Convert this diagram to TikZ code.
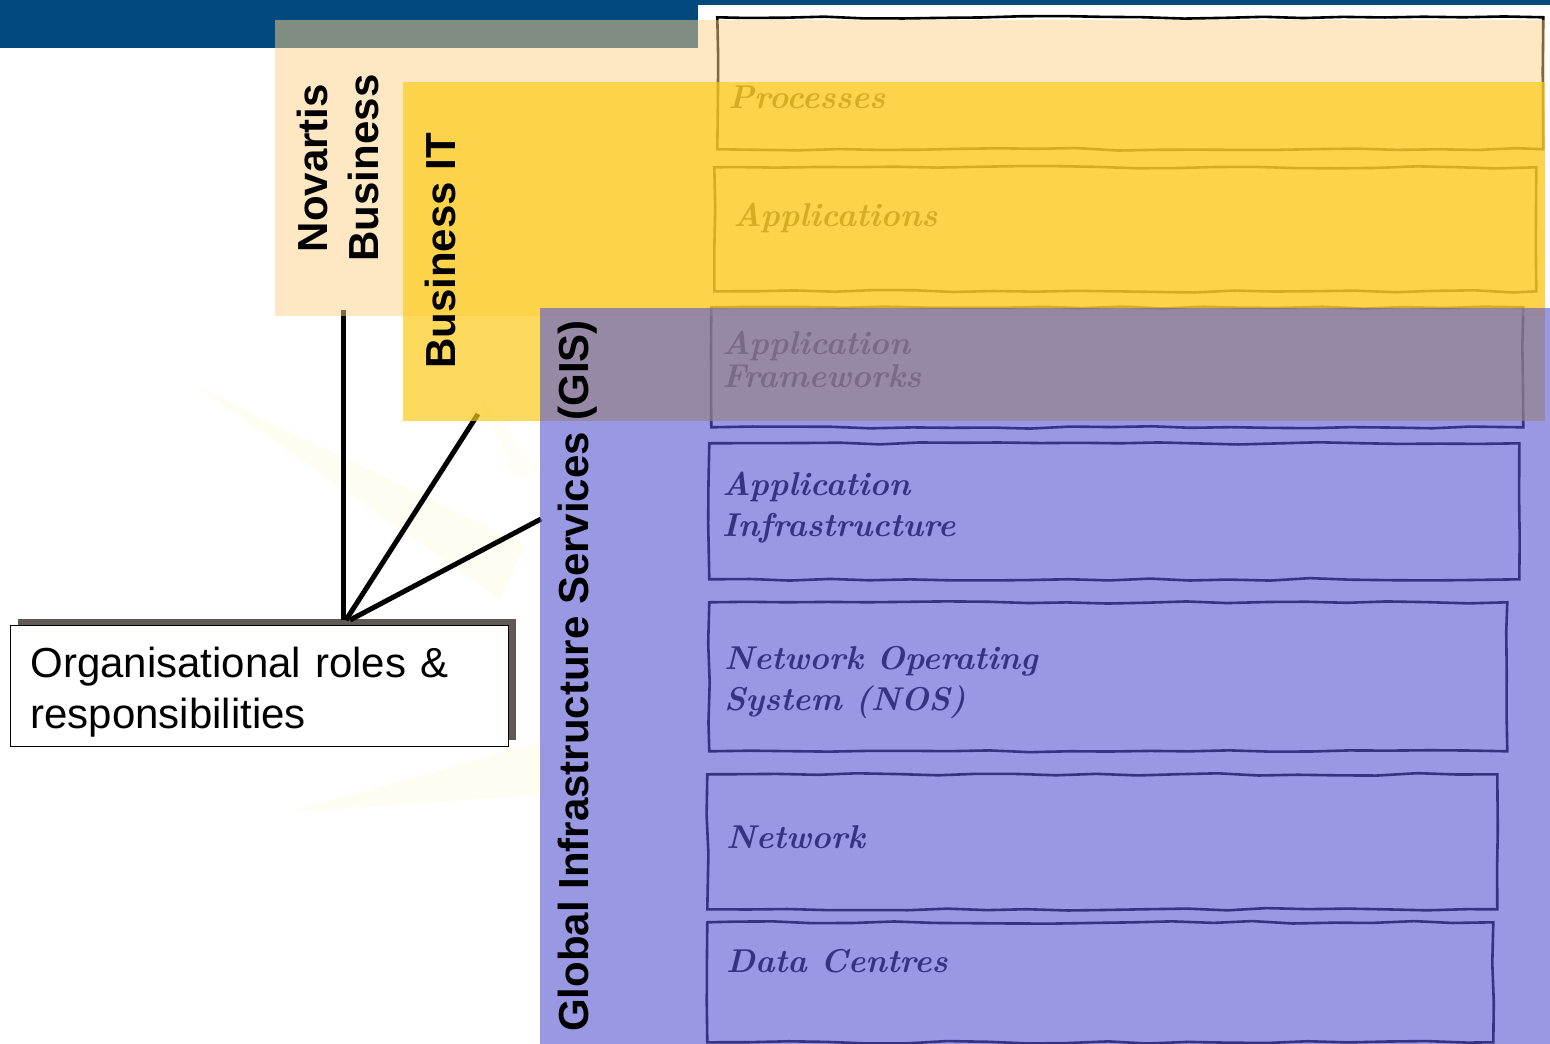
\documentclass[tikz,border=0pt]{standalone}
\usepackage{fontspec}
\newfontfamily\arialfont{Liberation Sans}
\usetikzlibrary{shadows,decorations.pathmorphing}
\definecolor{bannerblue}{RGB}{2,73,125}
\definecolor{peachtint}{RGB}{253,209,137}
\definecolor{yellowtint}{RGB}{252,202,25}
\definecolor{gistint}{RGB}{86,86,210}
\definecolor{shadowgray}{RGB}{96,89,85}
\definecolor{raycolor}{RGB}{255,238,170}
\tikzset{
  sketchbox/.style={draw=black, line width=2.6pt, anchor=north west, inner sep=0pt,
    decorate, decoration={random steps, segment length=40pt, amplitude=1.3pt}},
  hand/.style={font=\fontsize{33}{41}\selectfont\bfseries\itshape, anchor=base west, align=left, inner sep=0pt},
  overlay/.style={anchor=north west, inner sep=0pt, outer sep=0pt, draw=none},
  grouplabel/.style={font=\arialfont\bfseries\fontsize{42}{51}\selectfont, rotate=90, align=center},
  link/.style={line width=5pt, black},
  callout/.style={draw=black, line width=0.8pt, fill=white, anchor=north west,
    font=\arialfont\fontsize{42}{51}\selectfont, align=left, text width=458pt,
    inner xsep=20pt, minimum height=121pt,
    drop shadow={shadow xshift=8pt, shadow yshift=6pt, fill=shadowgray, opacity=1}},
}
\begin{document}
\begin{tikzpicture}[x=1pt, y=-1pt]
  \useasboundingbox (0,0) rectangle (1550,1044);
  % faint rays behind
  \fill[raycolor, opacity=0.15] (195,385) -- (525,545) -- (500,600) -- cycle;
  \fill[raycolor, opacity=0.15] (290,812) -- (540,742) -- (540,795) -- cycle;
  \fill[raycolor, opacity=0.12] (480,400) -- (540,470) -- (515,480) -- cycle;

  % sketched layers
  \node[sketchbox, minimum width=826pt, minimum height=132pt] (proc) at (716,16) {};
  \node[sketchbox, minimum width=822pt, minimum height=124pt] (apps) at (713,166) {};
  \node[sketchbox, minimum width=812pt, minimum height=120pt] (fwks) at (710,306) {};
  \node[sketchbox, minimum width=810pt, minimum height=136pt] (infra) at (708,442) {};
  \node[sketchbox, minimum width=798pt, minimum height=149pt] (nos) at (708,601) {};
  \node[sketchbox, minimum width=790pt, minimum height=135pt] (net) at (706,773) {};
  \node[sketchbox, minimum width=786pt, minimum height=120pt] (dc) at (706,921) {};

  \node[hand] (proctext) at (728,108) {Processes};
  \node[hand] (appstext) at (733,226) {Applications};
  \node[hand] (fwkstext) at (722,387) {Application\\[-8pt]Frameworks};
  \node[hand] (infratext) at (722,536) {Application\\Infrastructure};
  \node[hand] (nostext) at (724,710) {Network Operating\\System (NOS)};
  \node[hand] (nettext) at (726,848) {Network};
  \node[hand] (dctext) at (726,972) {Data Centres};

  % callout and its links
  \node[callout] (roles) at (10,625) {\rule{0pt}{42pt}Organisational roles \&\\responsibilities};
  \coordinate (hub) at (346,620);
  \coordinate (nbfoot) at (343,310);
  \coordinate (bitfoot) at (478,414);
  \coordinate (gisfoot) at (541,519);
  \draw[link] (nbfoot |- hub) -- (nbfoot);
  \draw[link] (hub) -- (bitfoot);
  \draw[link] ([xshift=4pt]hub) -- (gisfoot);

  % banner
  \fill[bannerblue] (0,0) rectangle (698,48);
  \fill[bannerblue] (698,0) rectangle (1550,5);

  % coloured groups
  \node[overlay, fill=peachtint, fill opacity=0.5, minimum width=1270pt, minimum height=296pt] (nb) at (275,20) {};
  \node[overlay, fill=yellowtint, fill opacity=0.7, minimum width=1142pt, minimum height=339pt] (bit) at (403,82) {};
  \node[overlay, fill=gistint, fill opacity=0.61, minimum width=1010pt, minimum height=736pt] (gis) at (540,308) {};

  \node[grouplabel] (nblabel) at (338,168) {Novartis\\Business};
  \node[grouplabel] (bitlabel) at (440,251) {Business IT};
  \node[grouplabel] (gislabel) at (578,676) {Global Infrastructure Services (GIS)};
\end{tikzpicture}
\end{document}
